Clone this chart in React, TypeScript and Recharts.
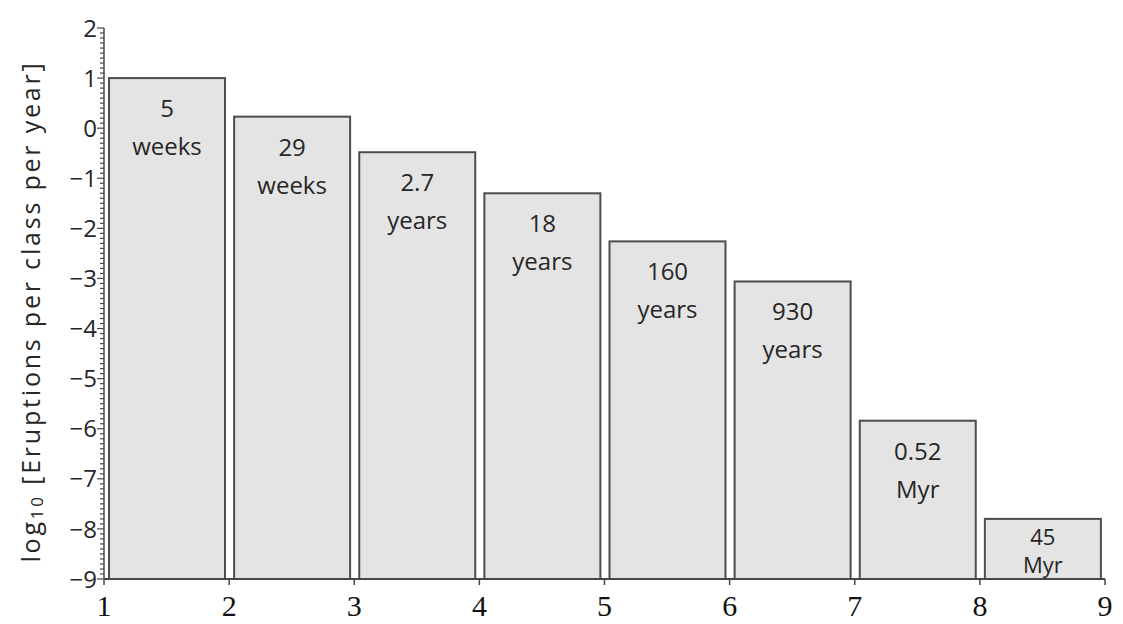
import React from 'react';
import { BarChart, Bar, XAxis, YAxis } from 'recharts';

// eruption size class (bar spans class .. class+1)
const classStarts = [1, 2, 3, 4, 5, 6, 7, 8];
// log10 eruptions per class per year
const logRates = [1.0, 0.23, -0.48, -1.3, -2.26, -3.06, -5.84, -7.8];
// mean recurrence interval, printed inside each bar
const intervalNums = ['5', '29', '2.7', '18', '160', '930', '0.52', '45'];
const intervalUnits = ['weeks', 'weeks', 'years', 'years', 'years', 'years', 'Myr', 'Myr'];

const xTicks = [1, 2, 3, 4, 5, 6, 7, 8, 9];
const Y_MIN = -9;
const Y_MAX = 2;

const yTicks: number[] = [];
for (let i = Y_MIN * 10; i <= Y_MAX * 10; i++) yTicks.push(i / 10);

const data = classStarts.map((c, i) => ({
  mid: c + 0.5,
  range: [Y_MIN, logRates[i]],
  num: intervalNums[i],
  unit: intervalUnits[i],
}));

const AXIS = '#474747';
const TEXT = '#262626';
const SANS = '"Open Sans", "DejaVu Sans", sans-serif';
const SERIF = '"Liberation Serif", "DejaVu Serif", serif';

const fmt = (v: number) => (v < 0 ? '\u2212' + Math.abs(v) : String(v));

const YTick = (props: any) => {
  const { x, y, payload } = props;
  const v = Math.round(payload.value * 10) / 10;
  const major = Number.isInteger(v);
  return (
    <g>
      <line x1={x - (major ? 7 : 4)} x2={x} y1={y} y2={y} stroke={AXIS} strokeWidth={1.2} />
      {major && (
        <text x={x - 7} y={y} dy="0.36em" textAnchor="end" fontFamily={SANS} fontSize={24} fontWeight={500} fill={TEXT}>
          {fmt(v)}
        </text>
      )}
    </g>
  );
};

const XTick = (props: any) => {
  const { x, y, payload } = props;
  return (
    <g>
      <line x1={x} x2={x} y1={y} y2={y + 6} stroke={AXIS} strokeWidth={1.5} />
      <text x={x} y={y + 37} textAnchor="middle" fontFamily={SERIF} fontSize={30} fill="#111">
        {payload.value}
      </text>
    </g>
  );
};

const YLabel = (props: any) => {
  const { viewBox } = props;
  const cx = 22;
  const cy = viewBox.y + viewBox.height / 2 + 8;
  return (
    <text
      x={cx}
      y={cy}
      transform={`rotate(-90, ${cx}, ${cy})`}
      textAnchor="middle"
      dominantBaseline="central"
      fontFamily={SANS}
      fontSize={25}
      fontWeight={500}
      letterSpacing={2.8}
      fill={TEXT}
    >
      log
      <tspan fontSize={17} dy={6}>10</tspan>
      <tspan dy={-6}> [Eruptions per class per year]</tspan>
    </text>
  );
};

const BarShape = (props: any) => {
  const { x, y, width, height, payload } = props;
  const cx = x + width / 2;
  // short bars squeeze the two lines together
  const tight = height < 100;
  const fs = tight ? 22 : 24;
  const b1 = tight ? y + height * 0.43 : y + 39;
  const b2 = tight ? y + height * 0.9 : y + 77;
  return (
    <g>
      <rect x={x} y={y} width={width} height={height} fill="#e4e4e4" stroke="#4d4d4d" strokeWidth={2} />
      <text x={cx} y={b1} textAnchor="middle" fontFamily={SANS} fontSize={fs} fontWeight={500} fill={TEXT}>
        {payload.num}
      </text>
      <text x={cx} y={b2} textAnchor="middle" fontFamily={SANS} fontSize={fs} fontWeight={500} fill={TEXT}>
        {payload.unit}
      </text>
    </g>
  );
};

export default function App() {
  return (
    <div style={{ width: 1110, height: 616, background: '#fff' }}>
      <BarChart width={1110} height={616} data={data} margin={{ top: 20, right: 13, bottom: 5, left: 0 }}>
        <XAxis
          dataKey="mid"
          type="number"
          domain={[1, 9]}
          ticks={xTicks}
          interval={0}
          tickLine={false}
          tickSize={0}
          tickMargin={0}
          height={40}
          stroke={AXIS}
          strokeWidth={2}
          tick={<XTick />}
          allowDataOverflow
        />
        <YAxis
          type="number"
          domain={[Y_MIN, Y_MAX]}
          ticks={yTicks}
          interval={0}
          width={96}
          tickLine={false}
          tickSize={0}
          tickMargin={0}
          stroke={AXIS}
          strokeWidth={1.5}
          tick={<YTick />}
          allowDataOverflow
          label={<YLabel />}
        />
        <Bar dataKey="range" barSize={116} shape={<BarShape />} isAnimationActive={false} />
      </BarChart>
    </div>
  );
}
